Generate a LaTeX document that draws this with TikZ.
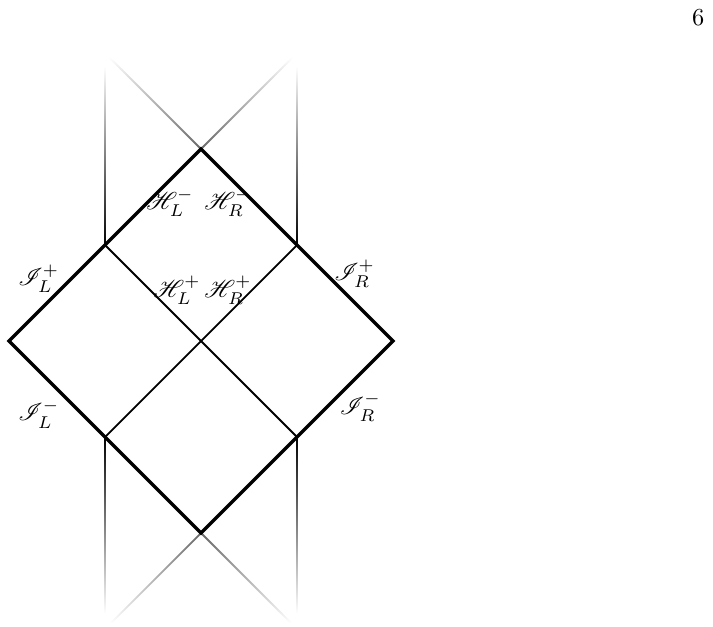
\documentclass[tikz,border=0pt]{standalone}
\usepackage{amsmath}
\usepackage{mathrsfs}
\usetikzlibrary{fadings}

\begin{document}
\begin{tikzpicture}[x=1.59cm, y=1.59cm,
    bdry/.style={line width=1.6pt, line join=miter},
    hzn/.style={line width=0.85pt},
    fadeup/.style={line width=0.85pt, path fading=north},
    fadedown/.style={line width=0.85pt, path fading=south},
    lbl/.style={inner sep=0.5pt, scale=1.15}]
      \useasboundingbox (-2.094,-2.969) rectangle (5.333,3.552);

      \coordinate (T) at (0,2);
      \coordinate (B) at (0,-2);
      \coordinate (L) at (-2,0);
      \coordinate (R) at (2,0);
      \coordinate (TL) at (-1,1);
      \coordinate (TR) at (1,1);
      \coordinate (BL) at (-1,-1);
      \coordinate (BR) at (1,-1);
      \coordinate (TLend) at (-1,2.85);
      \coordinate (TRend) at (1,2.85);
      \coordinate (BLend) at (-1,-2.83);
      \coordinate (BRend) at (1,-2.83);
      \coordinate (TXl) at (-0.95,2.95);
      \coordinate (TXr) at (0.95,2.95);
      \coordinate (BXl) at (-0.93,-2.93);
      \coordinate (BXr) at (0.93,-2.93);

      \draw[fadeup] (TL) -- (TLend);
      \draw[fadeup] (TR) -- (TRend);
      \draw[fadedown] (BL) -- (BLend);
      \draw[fadedown] (BR) -- (BRend);
      \draw[fadeup, black!60] (T) -- (TXl);
      \draw[fadeup, black!60] (T) -- (TXr);
      \draw[fadedown, black!60] (B) -- (BXl);
      \draw[fadedown, black!60] (B) -- (BXr);

      \draw[hzn] (TL) -- (BR);
      \draw[hzn] (TR) -- (BL);
      \draw[bdry] (T) -- (R) -- (B) -- (L) -- cycle;

      \node[lbl] (HLm) at (-0.323,1.44) {$\mathscr{H}_L^-$};
      \node[lbl] (HRm) at (0.281,1.44) {$\mathscr{H}_R^-$};
      \node[lbl] (HLp) at (-0.25,0.53) {$\mathscr{H}_L^+$};
      \node[lbl] (HRp) at (0.281,0.53) {$\mathscr{H}_R^+$};
      \node[lbl] (ILp) at (-1.69,0.65) {$\mathscr{I}_L^+$};
      \node[lbl] (IRp) at (1.60,0.70) {$\mathscr{I}_R^+$};
      \node[lbl] (ILm) at (-1.69,-0.76) {$\mathscr{I}_L^-$};
      \node[lbl] (IRm) at (1.66,-0.69) {$\mathscr{I}_R^-$};
      \node[lbl] (page) at (5.18,3.37) {6};
    \end{tikzpicture}
\end{document}
